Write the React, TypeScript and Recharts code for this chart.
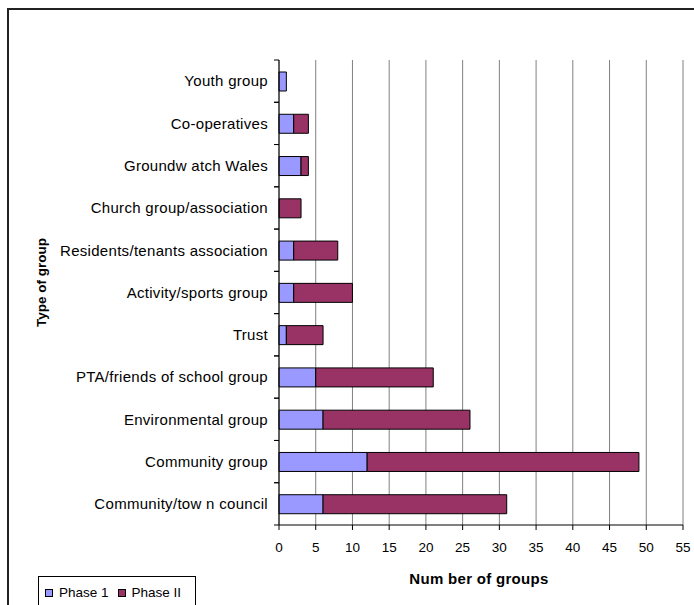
import { BarChart, Bar, XAxis, YAxis, CartesianGrid, Legend, Label } from "recharts";

const groupTypes = [
  "Youth group",
  "Co-operatives",
  "Groundw atch Wales",
  "Church group/association",
  "Residents/tenants association",
  "Activity/sports group",
  "Trust",
  "PTA/friends of school group",
  "Environmental group",
  "Community group",
  "Community/tow n council",
];
const phase1 = [1, 2, 3, 0, 2, 2, 1, 5, 6, 12, 6];
const phase2 = [0, 2, 1, 3, 6, 8, 5, 16, 20, 37, 25];
const countTicks = [0, 5, 10, 15, 20, 25, 30, 35, 40, 45, 50, 55];

const FONT = "'Liberation Sans', Arial, sans-serif";
const PLOT_LEFT = 279;
const PHASE1_COLOR = "#9999FF";
const PHASE2_COLOR = "#993366";

const data = groupTypes.map((type, i) => ({ type, phase1: phase1[i], phase2: phase2[i] }));

// category label plus the little tick marks that sit between categories
function GroupTick(props: any) {
  const { y, payload } = props;
  const half = payload.offset ?? 465 / 11 / 2;
  return (
    <g>
      <line x1={PLOT_LEFT - 5} x2={PLOT_LEFT} y1={y - half} y2={y - half} stroke="#000" />
      <line x1={PLOT_LEFT - 5} x2={PLOT_LEFT} y1={y + half} y2={y + half} stroke="#000" />
      <text
        x={PLOT_LEFT - 11}
        y={y}
        dy="0.355em"
        textAnchor="end"
        fontSize={15}
        letterSpacing={0.3}
        fontFamily={FONT}
        fill="#000"
      >
        {payload.value}
      </text>
    </g>
  );
}

function PhaseLegend() {
  const items = [
    { name: "Phase 1", color: PHASE1_COLOR },
    { name: "Phase II", color: PHASE2_COLOR },
  ];
  return (
    <div
      style={{
        border: "1px solid #000",
        borderBottom: "none",
        width: 158,
        height: 30,
        boxSizing: "border-box",
        display: "flex",
        alignItems: "center",
        paddingLeft: 6,
        paddingTop: 2,
        fontFamily: FONT,
        fontSize: 13.5,
        color: "#000",
      }}
    >
      {items.map((it) => (
        <span key={it.name} style={{ display: "flex", alignItems: "center", marginRight: 9 }}>
          <span
            style={{
              display: "inline-block",
              width: 8,
              height: 8,
              background: it.color,
              border: "1px solid #000",
              boxSizing: "border-box",
              marginRight: 6,
            }}
          />
          {it.name}
        </span>
      ))}
    </div>
  );
}

export default function App() {
  return (
    <div style={{ position: "relative", width: 694, height: 605, overflow: "hidden" }}>
      <style>{"body{margin:0}"}</style>
      <div
        style={{
          position: "absolute",
          left: 7,
          top: 8,
          width: 700,
          height: 610,
          borderTop: "2px solid #222",
          borderLeft: "2px solid #222",
          boxSizing: "border-box",
        }}
      />
      <div style={{ position: "absolute", left: 0, top: 0 }}>
        <BarChart
          width={694}
          height={605}
          data={data}
          layout="vertical"
          margin={{ top: 60, right: 11, left: 0, bottom: 0 }}
          barSize={19}
        >
          <CartesianGrid horizontal={false} stroke="#808080" />
          <XAxis
            type="number"
            domain={[0, 55]}
            ticks={countTicks}
            interval={0}
            height={80}
            stroke="#000"
            tickSize={5}
            tickMargin={12}
            tick={{ fill: "#000", fontSize: 13.5, fontFamily: FONT }}
          >
            <Label
              content={({ viewBox }: any) => (
                <text
                  x={viewBox.x + viewBox.width / 2 - 2}
                  y={584}
                  textAnchor="middle"
                  fontSize={15}
                  letterSpacing={0.3}
                  fontWeight="bold"
                  fontFamily={FONT}
                  fill="#000"
                >
                  Num ber of groups
                </text>
              )}
            />
          </XAxis>
          <YAxis
            type="category"
            dataKey="type"
            width={PLOT_LEFT}
            stroke="#000"
            tickLine={false}
            interval={0}
            tick={<GroupTick />}
          >
            <Label
              content={({ viewBox }: any) => {
                const cy = viewBox.y + viewBox.height / 2 - 10;
                return (
                  <text
                    x={46}
                    y={cy}
                    transform={`rotate(-90, 46, ${cy})`}
                    textAnchor="middle"
                    fontSize={13.5}
                    fontWeight="bold"
                    fontFamily={FONT}
                    fill="#000"
                  >
                    Type of group
                  </text>
                );
              }}
            />
          </YAxis>
          <Legend
            layout="horizontal"
            verticalAlign="middle"
            align="center"
            wrapperStyle={{ left: 38, top: 576, width: 160 }}
            content={() => <PhaseLegend />}
          />
          <Bar dataKey="phase1" name="Phase 1" stackId="g" fill={PHASE1_COLOR} stroke="#000" isAnimationActive={false} />
          <Bar dataKey="phase2" name="Phase II" stackId="g" fill={PHASE2_COLOR} stroke="#000" isAnimationActive={false} />
        </BarChart>
      </div>
    </div>
  );
}
